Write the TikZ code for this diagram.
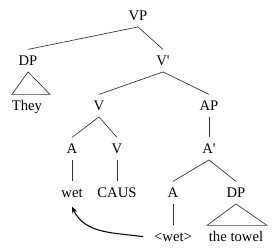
\documentclass[tikz,border=0pt]{standalone}
\usepackage{fontspec}
\setmainfont{Liberation Serif}
\usetikzlibrary{arrows.meta, calc}

\begin{document}
\begin{tikzpicture}[
    x=0.75pt, y=-0.75pt,
    font=\fontsize{11}{13}\selectfont,
    % Tree label style (placed on its baseline)
    cat/.style={
        anchor=base, inner xsep=2pt, inner ysep=2.25pt,
        text height=10pt, text depth=2pt
    },
    % Branch style
    branch/.style={draw=black!80, line width=0.5pt},
    % Movement arrow style
    movement/.style={draw=black, line width=0.8pt, -{Stealth[length=5pt,width=4pt]}}
]
    \useasboundingbox (0,0) rectangle (278,252);

    % =========================================================================
    % Nodes
    % =========================================================================
    \node[cat] (vp)     at (138,21)  {VP};
    \node[cat] (dp)     at (28,66)   {DP};
    \node[cat] (vbar)   at (163,66)  {V\textquotesingle};
    \node[cat] (they)   at (27,111)  {They};
    \node[cat] (v)      at (99,111)  {V};
    \node[cat] (ap)     at (209,111) {AP};
    \node[cat] (a)      at (72,154)  {A};
    \node[cat] (vcaus)  at (117,154) {V};
    \node[cat] (abar)   at (209,154) {A\textquotesingle};
    \node[cat] (wet)    at (72,198)  {wet};
    \node[cat] (caus)   at (117,198) {CAUS};
    \node[cat] (alow)   at (173,198) {A};
    \node[cat] (dplow)  at (236,198) {DP};
    \node[cat] (trace)  at (173,242) {\textless wet\textgreater};
    \node[cat] (towel)  at (236,242) {the towel};

    % =========================================================================
    % Branches
    % =========================================================================
    \draw[branch] (vp.south) -- (dp.north);
    \draw[branch] (vp.south) -- (vbar.north);
    \draw[branch] (vbar.south) -- (v.north);
    \draw[branch] (vbar.south) -- (ap.north);
    \draw[branch] (v.south) -- (a.north);
    \draw[branch] (v.south) -- (vcaus.north);
    \draw[branch] (ap.south) -- (abar.north);
    \draw[branch] (a.south) -- (wet.north);
    \draw[branch] (vcaus.south) -- (caus.north);
    \draw[branch] (abar.south) -- (alow.north);
    \draw[branch] (abar.south) -- (dplow.north);
    \draw[branch] (alow.south) -- (trace.north);

    % Triangles
    \draw[branch] (dp.south) -- ($(they.north)+(-15,0)$) -- ($(they.north)+(23,0)$) -- cycle;
    \draw[branch] (dplow.south) -- ($(towel.north)+(-29,0)$) -- ($(towel.north)+(31,0)$) -- cycle;

    % =========================================================================
    % Movement
    % =========================================================================
    \draw[movement] ([xshift=-6pt]trace.west) to[out=172, in=-65] ([yshift=-2pt]wet.south);

\end{tikzpicture}
\end{document}
